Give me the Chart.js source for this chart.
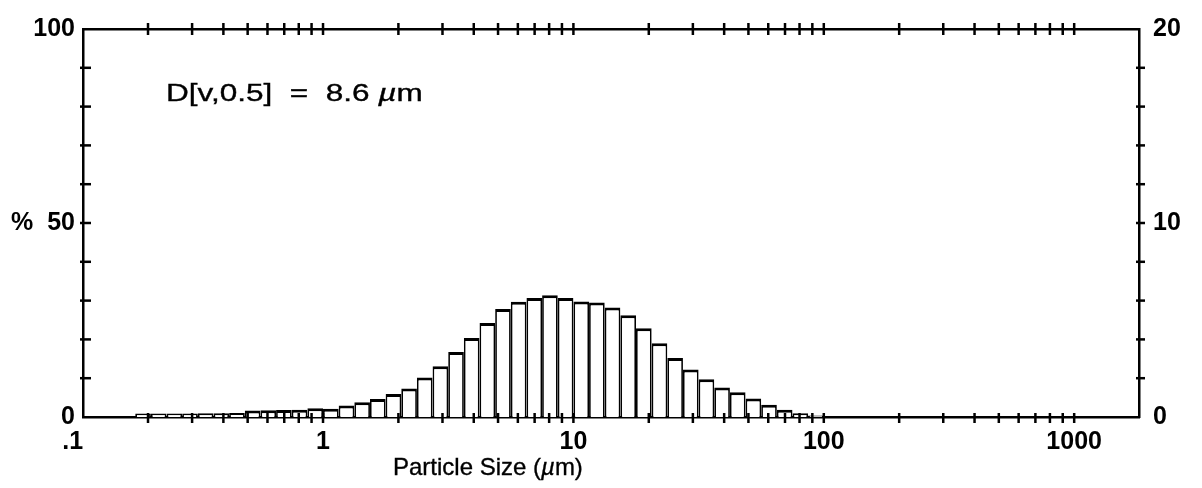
<!DOCTYPE html>
<html>
<head>
<meta charset="utf-8">
<script src="https://cdn.jsdelivr.net/npm/chart.js@4.4.1/dist/chart.umd.min.js"></script>
<style>
html,body{margin:0;padding:0;background:#fff;}
#wrap{position:relative;width:1202px;height:488px;overflow:hidden;background:#fff;}
#c{position:absolute;left:0;top:0;}
.lbl{position:absolute;font-family:"Liberation Sans",Arial,sans-serif;color:#000;white-space:pre;line-height:1;transform-origin:0 0;-webkit-text-stroke:0.35px #000;}
#ann{left:166px;top:82px;font-size:23px;transform:scaleX(1.37);}
#xt{left:393px;top:455px;font-size:24px;}
</style>
</head>
<body>
<div id="wrap">
<canvas id="c" width="1202" height="488"></canvas>
<div id="ann" class="lbl">D[v,0.5]  =  8.6 <i>µ</i>m</div>
<div id="xt" class="lbl">Particle Size (<i>µ</i>m)</div>
</div>
<script>
// Particle size bin centres (µm)
const sizeMid = [0.1911, 0.2207, 0.2548, 0.2943, 0.3398, 0.3924, 0.4532, 0.5233, 0.6043, 0.6978, 0.8058, 0.9306,
  1.0746, 1.2409, 1.4330, 1.6548, 1.9110, 2.2067, 2.5483, 2.9427, 3.3982, 3.9242, 4.5316, 5.2330, 6.0430, 6.9783, 8.0584, 9.3057,
  10.746, 12.409, 14.330, 16.548, 19.110, 22.067, 25.483, 29.427, 33.982, 39.242, 45.316, 52.330, 60.430, 69.783, 80.584, 93.057];
// Volume % in each bin (right axis)
const volumePct = [0.18, 0.18, 0.18, 0.18, 0.19, 0.19, 0.20, 0.34, 0.35, 0.36, 0.38, 0.45,
  0.42, 0.59, 0.76, 0.93, 1.18, 1.47, 2.03, 2.62, 3.35, 4.07, 4.85, 5.57, 5.94, 6.13, 6.28, 6.14,
  5.96, 5.90, 5.65, 5.25, 4.58, 3.80, 3.04, 2.45, 1.94, 1.52, 1.27, 0.95, 0.63, 0.37, 0.19, 0.08];

const xRange = [0.1100, 1815];
const xMajorTicks = [0.1, 1, 10, 100, 1000];
const xMajorLabels = ['.1', '1', '10', '100', '1000'];
const xMinorMultiples = [2, 3, 4, 5, 6, 7, 8, 9];
const yLeftRange = [0, 100];
const yLeftLabelValues = [0, 50, 100];
const yLeftLabels = ['0', '%  50', '100'];
const yRightRange = [0, 20];
const yRightLabelValues = [0, 10, 20];
const yRightLabels = ['0', '10', '20'];

function logTickValues(includeBelowMin) {
  const vals = [];
  xMajorTicks.forEach(d => {
    if (d >= xRange[0] || includeBelowMin) vals.push(d);
    xMinorMultiples.forEach(m => { const v = +(d * m).toPrecision(6); if (v >= xRange[0] && v <= xRange[1]) vals.push(v); });
  });
  return vals.filter(v => v <= xRange[1]).sort((a, b) => a - b);
}

const tickFont = { family: '"Liberation Sans", Arial, sans-serif', size: 25, weight: 'bold' };

const crossTicks = {
  id: 'crossTicks',
  afterDraw(chart) {
    const { ctx, chartArea: a } = chart;
    ctx.save();
    ctx.strokeStyle = '#000';
    ctx.lineWidth = 2.5;
    const seg = (x1, y1, x2, y2) => { ctx.beginPath(); ctx.moveTo(x1, y1); ctx.lineTo(x2, y2); ctx.stroke(); };
    const yl = chart.scales.y;
    yl.ticks.forEach((t, i) => { const p = yl.getPixelForTick(i); if (p > a.top + 2 && p < a.bottom - 2) seg(a.left - 3, p, a.left + 8, p); });
    const yr = chart.scales.yR;
    yr.ticks.forEach((t, i) => { const p = yr.getPixelForTick(i); if (p > a.top + 2 && p < a.bottom - 2) seg(a.right - 3, p, a.right + 6, p); });
    const xb = chart.scales.x;
    xb.ticks.forEach((t, i) => { const p = xb.getPixelForTick(i); if (p > a.left + 2 && p < a.right - 2) seg(p, a.bottom - 4, p, a.bottom + 6); });
    const xt = chart.scales.xTop;
    xt.ticks.forEach((t, i) => { const p = xt.getPixelForTick(i); if (p > a.left + 2 && p < a.right - 2) seg(p, a.top - 6, p, a.top + 6); });
    ctx.restore();
  }
};

const borderCfg = { display: true, color: '#000', width: 2.5 };
const noGrid = { display: false, drawTicks: false };

new Chart(document.getElementById('c'), {
  type: 'bar',
  data: {
    datasets: [{
      data: sizeMid.map((s, i) => ({ x: s, y: volumePct[i] })),
      xAxisID: 'x',
      yAxisID: 'yR',
      backgroundColor: '#fff',
      borderColor: '#000',
      borderWidth: { top: 3, left: 1.75, right: 1.75, bottom: 0 },
      borderSkipped: 'start',
      barThickness: 'flex',
      categoryPercentage: 1,
      barPercentage: 1,
      inflateAmount: 0
    }]
  },
  options: {
    responsive: false,
    animation: false,
    events: [],
    layout: { padding: 0 },
    plugins: { legend: { display: false }, tooltip: { enabled: false } },
    scales: {
      x: {
        type: 'logarithmic', position: 'bottom', min: xRange[0], max: xRange[1], offset: false,
        grid: { display: false, drawTicks: false, offset: false }, border: borderCfg,
        afterBuildTicks: s => { s.ticks = logTickValues(true).map(v => ({ value: v })); },
        afterFit: s => { s.height = 71; },
        ticks: {
          autoSkip: false, maxRotation: 0, minRotation: 0, padding: 10, color: '#000', font: tickFont,
          callback: v => { const i = xMajorTicks.findIndex(m => Math.abs(m - v) < m * 1e-6); return i >= 0 ? xMajorLabels[i] : ''; }
        }
      },
      xTop: {
        type: 'logarithmic', position: 'top', min: xRange[0], max: xRange[1], offset: false,
        grid: noGrid, border: borderCfg,
        afterBuildTicks: s => { s.ticks = logTickValues(false).map(v => ({ value: v })); },
        afterFit: s => { s.height = 22; },
        ticks: { display: false, autoSkip: false }
      },
      y: {
        type: 'linear', position: 'left', min: yLeftRange[0], max: yLeftRange[1],
        grid: noGrid, border: borderCfg,
        afterFit: s => { s.width = 83; },
        ticks: {
          stepSize: 10, autoSkip: false, padding: 8, color: '#000', font: tickFont,
          callback: v => { const i = yLeftLabelValues.indexOf(v); return i >= 0 ? yLeftLabels[i] : ''; }
        }
      },
      yR: {
        type: 'linear', position: 'right', min: yRightRange[0], max: yRightRange[1],
        grid: noGrid, border: borderCfg,
        afterFit: s => { s.width = 63; },
        ticks: {
          stepSize: 2, autoSkip: false, padding: 14, color: '#000', font: tickFont,
          callback: v => { const i = yRightLabelValues.indexOf(v); return i >= 0 ? yRightLabels[i] : ''; }
        }
      }
    }
  },
  plugins: [crossTicks]
});
</script>
</body>
</html>
